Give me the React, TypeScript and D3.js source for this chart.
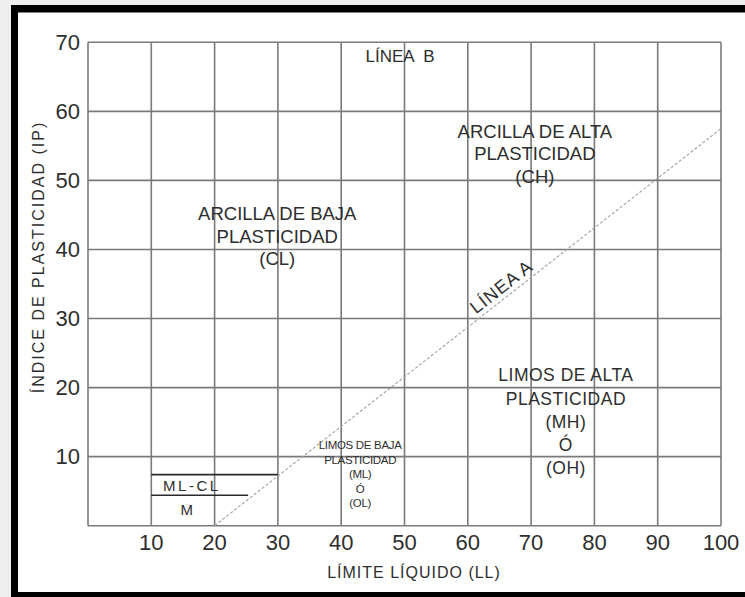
import React from "react";
import * as d3 from "d3";

const xTicks = [10, 20, 30, 40, 50, 60, 70, 80, 90, 100];
const yTicks = [10, 20, 30, 40, 50, 60, 70];
const xGrid = [0, 10, 20, 30, 40, 50, 60, 70, 80, 90, 100];
const yGrid = [0, 10, 20, 30, 40, 50, 60, 70];
const lineA = [
  { ll: 20, ip: 0 },
  { ll: 100, ip: 57.5 },
];
const mlclLines = [
  { ll0: 10, ll1: 30, ip: 7.4 },
  { ll0: 10, ll1: 25.3, ip: 4.4 },
];
const chLines = ["ARCILLA DE ALTA", "PLASTICIDAD", "(CH)"];
const clLines = ["ARCILLA DE BAJA", "PLASTICIDAD", "(CL)"];
const mhLines = ["LIMOS DE ALTA", "PLASTICIDAD", "(MH)", "Ó", "(OH)"];
const mlLines = ["LIMOS DE BAJA", "PLASTICIDAD", "(ML)", "Ó", "(OL)"];
const xTitle = "LÍMITE LÍQUIDO (LL)";
const yTitle = "ÍNDICE DE PLASTICIDAD (IP)";

export default function App() {
  const W = 745;
  const H = 597;
  const x = d3.scaleLinear().domain([0, 100]).range([88, 721]);
  const y = d3.scaleLinear().domain([0, 70]).range([525.7, 42.3]);
  const font = "'Liberation Sans', Arial, sans-serif";
  const txt = "#2e2e2e";
  const grid = "#7a7a7a";

  const line = d3
    .line<{ ll: number; ip: number }>()
    .x((d) => x(d.ll))
    .y((d) => y(d.ip));

  const ax0 = x(lineA[0].ll), ay0 = y(lineA[0].ip);
  const ax1 = x(lineA[1].ll), ay1 = y(lineA[1].ip);
  const angle = (Math.atan2(ay1 - ay0, ax1 - ax0) * 180) / Math.PI;

  const block = (lines: string[], ll: number, ip: number, gap: number, size: number, ls: number, key: string) => (
    <text key={key} x={x(ll)} y={y(ip)} textAnchor="middle" fontSize={size} fill={txt} fontFamily={font} letterSpacing={ls}>
      {lines.map((l, i) => (
        <tspan key={i} x={x(ll)} dy={i === 0 ? 0 : gap}>
          {l}
        </tspan>
      ))}
    </text>
  );

  return (
    <svg width={W} height={H} style={{ position: "absolute", left: 0, top: 0 }} xmlns="http://www.w3.org/2000/svg">
      <rect x={0} y={0} width={W} height={H} fill="#efefef" />
      <rect x={11} y={5} width={W} height={H} fill="#000" />
      <rect x={18} y={12.5} width={W} height={592 - 12.5} fill="#fff" />

      {xGrid.map((v) => (
        <line key={"gx" + v} x1={x(v)} x2={x(v)} y1={y(0)} y2={y(70)} stroke={grid} strokeWidth={1.6} />
      ))}
      {yGrid.map((v) => (
        <line key={"gy" + v} x1={x(0)} x2={x(100)} y1={y(v)} y2={y(v)} stroke={grid} strokeWidth={1.6} />
      ))}

      <path d={line(lineA) || ""} fill="none" stroke="#a0a0a0" strokeWidth={1.1} strokeDasharray="3,2" />

      {mlclLines.map((m, i) => (
        <line key={"ml" + i} x1={x(m.ll0)} x2={x(m.ll1)} y1={y(m.ip)} y2={y(m.ip)} stroke="#2a2a2a" strokeWidth={1.6} />
      ))}

      {yTicks.map((v) => (
        <text key={"yt" + v} x={80} y={y(v)} dy="0.35em" textAnchor="end" fontSize={22} fill={txt} fontFamily={font}>
          {v}
        </text>
      ))}
      {xTicks.map((v) => (
        <text key={"xt" + v} x={x(v)} y={550} textAnchor="middle" fontSize={22} fill={txt} fontFamily={font}>
          {v}
        </text>
      ))}

      <text x={414} y={578} textAnchor="middle" fontSize={16} fill={txt} fontFamily={font} letterSpacing={1}>
        {xTitle}
      </text>
      <text transform={`translate(44,257) rotate(-90)`} textAnchor="middle" fontSize={16} fill={txt} fontFamily={font} letterSpacing={2}>
        {yTitle}
      </text>

      <text x={x(49.3)} y={y(67.2)} textAnchor="middle" fontSize={17} fill={txt} fontFamily={font} style={{ whiteSpace: "pre" }}>
        {"LÍNEA  B"}
      </text>

      <text
        transform={`translate(${x(65.9)},${y(33.9)}) rotate(${angle})`}
        textAnchor="middle"
        fontSize={18}
        fill={txt}
        fontFamily={font}
        letterSpacing={1}
      >
        LÍNEA A
      </text>

      {block(chLines, 70.6, 56.2, 22.8, 18.5, 0, "ch")}
      {block(clLines, 29.9, 44.2, 22.5, 18.5, 0, "cl")}
      {block(mhLines, 75.5, 20.9, 23.2, 17.5, 0.5, "mh")}
      {block(mlLines, 43, 11.1, 14.5, 11.5, -0.3, "mlb")}

      <text x={x(16.4)} y={y(5.0)} textAnchor="middle" fontSize={15} fill={txt} fontFamily={font} letterSpacing={2.5}>
        ML-CL
      </text>
      <text x={x(15.6)} y={y(1.55)} textAnchor="middle" fontSize={15} fill={txt} fontFamily={font}>
        M
      </text>
    </svg>
  );
}
